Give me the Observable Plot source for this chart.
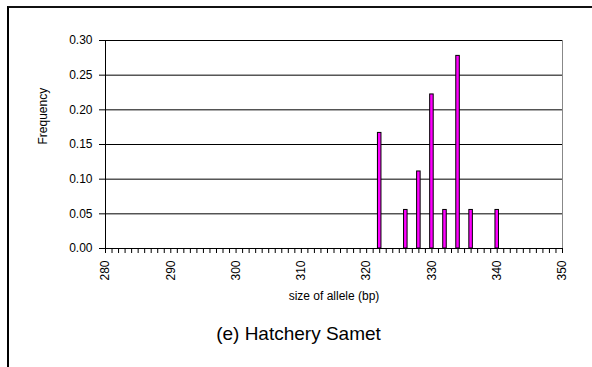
<!DOCTYPE html>
<html>
<head>
<meta charset="utf-8">
<script src="https://cdn.jsdelivr.net/npm/d3@7"></script>
<script src="https://cdn.jsdelivr.net/npm/@observablehq/plot@0.6"></script>
<style>
  html, body { margin: 0; padding: 0; background: #fff; }
  #wrap { position: relative; width: 592px; height: 367px; overflow: hidden; }
  #border { position: absolute; left: 7px; top: 6px; width: 700px; height: 400px;
            border-left: 2px solid #000; border-top: 2px solid #111; box-sizing: border-box; }
  #chart { position: absolute; left: 0; top: 0; }
</style>
</head>
<body>
<div id="wrap"><div id="border"></div><div id="chart"></div></div>
<script>
// Allele sizes (bp) and their frequencies
const sizes = [322, 326, 328, 330, 332, 334, 336, 340];
const freqs = [0.1667, 0.0556, 0.1111, 0.2222, 0.0556, 0.2778, 0.0556, 0.0556];
const yTicks = [0, 0.05, 0.10, 0.15, 0.20, 0.25, 0.30];
const xTicks = d3.range(280, 351);          // minor tick every bp
const xLabels = [280, 290, 300, 310, 320, 330, 340, 350];

const data = sizes.map((s, i) => ({size: s, freq: freqs[i]}));
const halfBar = 0.27;

const font = "'Liberation Sans', Arial, sans-serif";

const chart = Plot.plot({
  width: 592,
  height: 367,
  marginLeft: 105,
  marginRight: 30,
  marginTop: 40,
  marginBottom: 119,
  style: {fontFamily: font, fontSize: "12px", color: "#000", background: "transparent"},
  x: {domain: [280, 350]},
  y: {domain: [0, 0.30]},
  marks: [
    Plot.gridY(yTicks, {stroke: "#000", strokeOpacity: 1}),
    Plot.ruleX([350], {stroke: "#888", strokeWidth: 1}),
    Plot.rectY(data, {
      x1: d => d.size - halfBar,
      x2: d => d.size + halfBar,
      y: "freq",
      fill: "#ff00ff",
      stroke: "#000",
      strokeWidth: 1
    }),
    Plot.ruleX([280], {stroke: "#000"}),
    Plot.ruleY([0], {stroke: "#000"}),
    Plot.axisY(yTicks, {
      tickFormat: d => d.toFixed(2),
      tickSize: 6,
      tickPadding: 7,
      fontSize: 12,
      label: null
    }),
    Plot.axisX(xTicks, {
      tickSize: 5,
      tickPadding: 7,
      tickRotate: -90,
      tickFormat: d => (xLabels.includes(d) ? String(d) : ""),
      fontSize: 12,
      label: null
    }),
    Plot.text(["Frequency"], {
      frameAnchor: "left", dx: -62, rotate: -90, fontSize: 12, fill: "#000"
    }),
    Plot.text(["size of allele (bp)"], {
      frameAnchor: "bottom", dy: 51, fontSize: 12, fill: "#000"
    }),
    Plot.text(["(e) Hatchery Samet"], {
      frameAnchor: "bottom", dx: -35.5, dy: 91, fontSize: 19, fill: "#000"
    })
  ]
});

document.getElementById("chart").appendChild(chart);
</script>
</body>
</html>
